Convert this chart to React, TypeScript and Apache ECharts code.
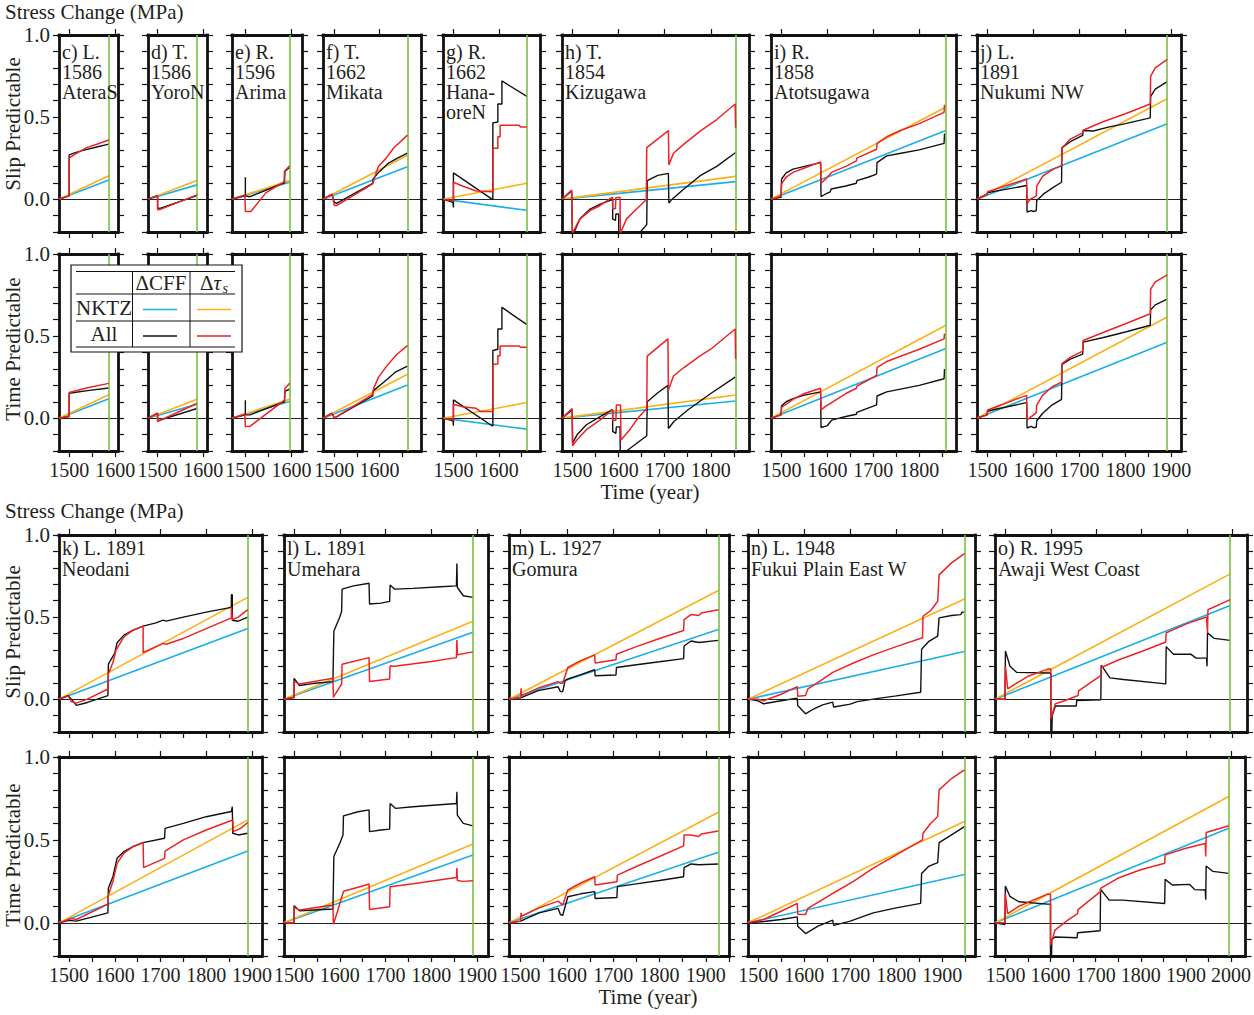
import React, { useEffect, useRef } from 'react';
import * as echarts from 'echarts';

type Pt = [number, number];

// ---------- panel metadata ----------
const panelTitles: string[][] = [
  ['c) L.', '1586', 'AteraS'],
  ['d) T.', '1586', 'YoroN'],
  ['e) R.', '1596', 'Arima'],
  ['f) T.', '1662', 'Mikata'],
  ['g) R.', '1662', 'Hana-', 'oreN'],
  ['h) T.', '1854', 'Kizugawa'],
  ['i) R.', '1858', 'Atotsugawa'],
  ['j) L.', '1891', 'Nukumi NW'],
  ['k) L. 1891', 'Neodani'],
  ['l) L. 1891', 'Umehara'],
  ['m) L. 1927', 'Gomura'],
  ['n) L. 1948', 'Fukui Plain East W'],
  ['o) R. 1995', 'Awaji West Coast'],
];
const eventYears = [1586, 1586, 1596, 1662, 1662, 1854, 1858, 1891, 1891, 1891, 1927, 1948, 1995];
const yearMin = [1478, 1479, 1471, 1475, 1477, 1477, 1477, 1477, 1478, 1478, 1475, 1478, 1477];
const yearMax = [1606, 1608, 1623, 1692, 1691, 1883, 1880, 1921, 1922, 1924, 1950, 1971, 2032];

// NKTZ-only linear loading (value reached at the event year)
const nktzSlipCff = [0.117, 0.087, 0.103, 0.197, -0.068, 0.107, 0.418, 0.459, 0.431, 0.408, 0.425, 0.29, 0.57];
const nktzSlipTau = [0.143, 0.113, 0.113, 0.268, 0.097, 0.139, 0.561, 0.612, 0.62, 0.475, 0.662, 0.61, 0.763];
const nktzTimeCff = [0.119, 0.085, 0.101, 0.202, -0.067, 0.105, 0.424, 0.463, 0.433, 0.409, 0.425, 0.292, 0.571];
const nktzTimeTau = [0.143, 0.115, 0.115, 0.267, 0.095, 0.141, 0.566, 0.616, 0.621, 0.476, 0.667, 0.611, 0.762];

// ---------- All-sources series ----------
const cSlipCff: Pt[] = [[1478, 0], [1500, 0.02], [1500, 0.27], [1510, 0.28], [1530, 0.297], [1560, 0.318], [1586, 0.335]];
const cSlipTau: Pt[] = [[1478, 0], [1500, 0.02], [1500, 0.25], [1510, 0.27], [1538, 0.314], [1560, 0.335], [1586, 0.36]];
const cTimeCff: Pt[] = [[1478, 0], [1500, 0.01], [1500, 0.152], [1540, 0.168], [1586, 0.184]];
const cTimeTau: Pt[] = [[1478, 0], [1500, 0.01], [1500, 0.156], [1540, 0.185], [1586, 0.212]];

const dSlipCff: Pt[] = [[1479, 0], [1498, 0.02], [1500, 0.02], [1500, -0.054], [1505, -0.056], [1586, 0.022]];
const dSlipTau: Pt[] = [[1479, 0], [1498, 0.02], [1500, 0.02], [1500, -0.064], [1506, -0.062], [1586, 0.026]];
const dTimeCff: Pt[] = [[1479, 0], [1500, 0.03], [1500, -0.016], [1586, 0.059]];
const dTimeTau: Pt[] = [[1479, 0], [1500, 0.03], [1500, -0.02], [1586, 0.089]];

const eSlipCff: Pt[] = [[1471, 0], [1500, 0.02], [1500, 0.133], [1500, 0.02], [1510, 0.015], [1585, 0.1], [1586, 0.17], [1596, 0.193]];
const eSlipTau: Pt[] = [[1471, 0], [1499, 0.025], [1500, -0.075], [1512, -0.075], [1545, 0.04], [1584, 0.105], [1585, 0.17], [1590, 0.185], [1596, 0.203]];
const eTimeCff: Pt[] = [[1471, 0], [1500, 0.02], [1500, 0.109], [1500, 0.02], [1510, 0.02], [1585, 0.1], [1586, 0.165], [1596, 0.176]];
const eTimeTau: Pt[] = [[1471, 0], [1499, 0.025], [1500, -0.05], [1510, -0.05], [1585, 0.11], [1586, 0.18], [1596, 0.212]];

const fSlipCff: Pt[] = [[1475, 0], [1495, 0.03], [1500, -0.02], [1505, -0.025], [1585, 0.097], [1586, 0.123], [1598, 0.163], [1620, 0.22], [1640, 0.25], [1662, 0.28]];
const fSlipTau: Pt[] = [[1475, 0], [1495, 0.03], [1500, -0.038], [1506, -0.038], [1585, 0.093], [1590, 0.14], [1598, 0.2], [1615, 0.25], [1631, 0.31], [1662, 0.39]];
const fTimeCff: Pt[] = [[1475, 0], [1495, 0.03], [1500, 0], [1585, 0.135], [1586, 0.166], [1610, 0.22], [1635, 0.28], [1662, 0.317]];
const fTimeTau: Pt[] = [[1475, 0], [1495, 0.03], [1500, 0], [1585, 0.145], [1587, 0.18], [1598, 0.25], [1616, 0.317], [1638, 0.388], [1662, 0.442]];

const gSlipCff: Pt[] = [[1477, 0], [1499, -0.02], [1500, -0.05], [1500, 0.16], [1585, 0], [1587, 0], [1587, 0.465], [1598, 0.47], [1598, 0.58], [1607, 0.58], [1607, 0.72], [1662, 0.626]];
const gSlipTau: Pt[] = [[1477, 0], [1500, -0.01], [1500, 0.103], [1520, 0.08], [1550, 0.05], [1585, 0.045], [1587, 0.045], [1587, 0.31], [1598, 0.31], [1598, 0.38], [1603, 0.38], [1603, 0.45], [1645, 0.45], [1648, 0.44], [1662, 0.44]];
const gTimeCff: Pt[] = [[1477, 0], [1499, -0.016], [1500, -0.046], [1500, 0.111], [1585, -0.046], [1587, -0.046], [1587, 0.412], [1598, 0.42], [1598, 0.543], [1607, 0.543], [1607, 0.675], [1662, 0.57]];
const gTimeTau: Pt[] = [[1477, 0], [1500, -0.01], [1500, 0.085], [1520, 0.07], [1550, 0.06], [1560, 0.04], [1587, 0.04], [1587, 0.327], [1598, 0.33], [1598, 0.38], [1603, 0.38], [1603, 0.44], [1645, 0.44], [1648, 0.432], [1662, 0.432]];

const hSlipCff: Pt[] = [[1477, 0], [1498, 0.05], [1500, -0.3], [1505, -0.19], [1516, -0.12], [1538, -0.06], [1560, -0.03], [1585, -0.004], [1587, -0.004], [1587, -0.12], [1593, -0.13], [1594, -0.09], [1600, -0.09], [1601, -0.45], [1647, -0.2], [1661, -0.155], [1662, 0.113], [1685, 0.145], [1708, 0.157], [1709, -0.024], [1716, 0.0], [1741, 0.06], [1777, 0.143], [1813, 0.2], [1854, 0.284]];
const hSlipTau: Pt[] = [[1477, 0], [1498, 0.056], [1500, -0.3], [1501, -0.2], [1516, -0.12], [1538, -0.07], [1559, -0.04], [1585, 0.01], [1587, 0.01], [1587, -0.058], [1593, -0.058], [1594, 0.01], [1603, 0.01], [1604, -0.3], [1605, -0.2], [1617, -0.12], [1639, -0.06], [1660, -0.004], [1661, 0.314], [1708, 0.418], [1709, 0.209], [1719, 0.28], [1741, 0.334], [1777, 0.414], [1813, 0.485], [1853, 0.58], [1854, 0.435]];
const hTimeCff: Pt[] = [[1477, 0], [1499, 0.05], [1500, -0.15], [1510, -0.1], [1530, -0.04], [1560, 0.01], [1585, 0.05], [1587, 0.05], [1587, -0.08], [1594, -0.093], [1595, -0.053], [1603, -0.053], [1604, -0.35], [1617, -0.2], [1661, -0.107], [1662, 0.1], [1685, 0.155], [1707, 0.2], [1708, -0.063], [1720, -0.02], [1750, 0.05], [1800, 0.15], [1853, 0.25]];
const hTimeTau: Pt[] = [[1477, 0], [1499, 0.059], [1500, -0.168], [1510, -0.13], [1530, -0.07], [1560, -0.01], [1585, 0.048], [1587, 0.048], [1587, -0.012], [1594, -0.012], [1595, 0.08], [1604, 0.08], [1605, -0.133], [1625, -0.067], [1643, 0.004], [1661, 0.059], [1662, 0.378], [1707, 0.483], [1708, 0.172], [1719, 0.257], [1741, 0.307], [1777, 0.38], [1800, 0.42], [1853, 0.543], [1854, 0.36]];

const iSlipCff: Pt[] = [[1477, 0], [1499, 0.012], [1500, 0.123], [1510, 0.16], [1525, 0.183], [1550, 0.2], [1585, 0.223], [1586, 0.016], [1595, 0.03], [1606, 0.045], [1608, 0.062], [1640, 0.08], [1663, 0.097], [1664, 0.113], [1690, 0.135], [1707, 0.153], [1708, 0.223], [1729, 0.264], [1760, 0.28], [1800, 0.3], [1854, 0.34], [1855, 0.4]];
const iSlipTau: Pt[] = [[1477, 0], [1499, 0.018], [1500, 0.093], [1510, 0.135], [1525, 0.163], [1550, 0.19], [1585, 0.227], [1586, 0.097], [1595, 0.12], [1609, 0.163], [1640, 0.2], [1663, 0.233], [1664, 0.25], [1707, 0.304], [1708, 0.34], [1729, 0.38], [1760, 0.42], [1800, 0.46], [1854, 0.529], [1855, 0.575]];
const iTimeCff: Pt[] = [[1477, 0], [1499, 0.02], [1500, 0.075], [1510, 0.1], [1525, 0.119], [1550, 0.14], [1585, 0.16], [1586, -0.057], [1600, -0.045], [1607, -0.02], [1609, -0.012], [1640, 0.01], [1663, 0.024], [1664, 0.035], [1707, 0.081], [1708, 0.135], [1729, 0.16], [1800, 0.2], [1854, 0.24], [1855, 0.3]];
const iTimeTau: Pt[] = [[1477, 0], [1499, 0.02], [1500, 0.065], [1525, 0.115], [1550, 0.15], [1585, 0.182], [1586, 0.05], [1595, 0.07], [1609, 0.095], [1640, 0.15], [1663, 0.182], [1664, 0.195], [1707, 0.26], [1708, 0.31], [1729, 0.345], [1800, 0.42], [1854, 0.483], [1855, 0.515]];

const jSlipCff: Pt[] = [[1477, 0], [1499, 0.03], [1500, 0.04], [1585, 0.083], [1586, -0.078], [1595, -0.07], [1600, -0.075], [1606, -0.07], [1607, -0.008], [1622, 0.032], [1643, 0.072], [1661, 0.103], [1662, 0.314], [1680, 0.35], [1707, 0.388], [1708, 0.418], [1730, 0.415], [1765, 0.44], [1800, 0.46], [1854, 0.495], [1855, 0.626], [1865, 0.67], [1891, 0.716]];
const jSlipTau: Pt[] = [[1477, 0], [1499, 0.03], [1500, 0.045], [1585, 0.123], [1586, -0.028], [1593, 0], [1600, 0.01], [1606, 0.02], [1607, 0.08], [1620, 0.14], [1643, 0.183], [1661, 0.203], [1662, 0.31], [1680, 0.366], [1707, 0.404], [1708, 0.42], [1750, 0.47], [1800, 0.52], [1854, 0.58], [1855, 0.75], [1865, 0.8], [1891, 0.851]];
const jTimeCff: Pt[] = [[1477, 0], [1499, 0.02], [1500, 0.044], [1585, 0.095], [1586, -0.06], [1595, -0.05], [1600, -0.058], [1606, -0.055], [1607, -0.016], [1620, 0.03], [1640, 0.08], [1661, 0.115], [1662, 0.327], [1680, 0.36], [1707, 0.39], [1708, 0.463], [1750, 0.49], [1800, 0.525], [1854, 0.566], [1855, 0.66], [1865, 0.69], [1891, 0.725]];
const jTimeTau: Pt[] = [[1477, 0], [1499, 0.02], [1500, 0.05], [1585, 0.139], [1586, -0.01], [1600, 0.02], [1606, 0.034], [1607, 0.08], [1620, 0.14], [1640, 0.19], [1661, 0.22], [1662, 0.333], [1680, 0.37], [1707, 0.408], [1708, 0.473], [1750, 0.52], [1800, 0.575], [1854, 0.636], [1855, 0.786], [1865, 0.83], [1891, 0.873]];

const kSlipCff: Pt[] = [[1478, 0], [1498, 0.022], [1505, 0], [1516, -0.038], [1540, -0.02], [1585, 0.022], [1586, 0.213], [1592, 0.243], [1600, 0.28], [1605, 0.344], [1620, 0.39], [1640, 0.42], [1662, 0.445], [1690, 0.465], [1706, 0.481], [1712, 0.475], [1750, 0.5], [1800, 0.53], [1855, 0.559], [1855, 0.636], [1857, 0.636], [1857, 0.481], [1870, 0.475], [1891, 0.5]];
const kSlipTau: Pt[] = [[1478, 0], [1498, 0.02], [1505, -0.015], [1516, -0.024], [1540, 0.0], [1585, 0.062], [1586, 0.153], [1596, 0.223], [1603, 0.3], [1620, 0.38], [1640, 0.42], [1662, 0.445], [1662, 0.284], [1706, 0.34], [1712, 0.335], [1750, 0.37], [1800, 0.43], [1855, 0.495], [1855, 0.56], [1857, 0.485], [1870, 0.5], [1891, 0.545]];
const kTimeCff: Pt[] = [[1478, 0], [1500, 0.015], [1516, 0.01], [1585, 0.06], [1586, 0.208], [1596, 0.28], [1605, 0.389], [1620, 0.43], [1640, 0.46], [1662, 0.484], [1709, 0.51], [1710, 0.57], [1750, 0.6], [1800, 0.64], [1855, 0.671], [1857, 0.7], [1858, 0.54], [1870, 0.53], [1891, 0.54]];
const kTimeTau: Pt[] = [[1478, 0], [1505, 0.026], [1516, 0.02], [1585, 0.113], [1586, 0.167], [1596, 0.25], [1605, 0.359], [1620, 0.42], [1640, 0.46], [1662, 0.484], [1663, 0.333], [1709, 0.389], [1710, 0.433], [1750, 0.5], [1800, 0.56], [1858, 0.62], [1859, 0.55], [1875, 0.57], [1891, 0.605]];

const lSlipCff: Pt[] = [[1478, 0], [1500, 0.01], [1500, 0.127], [1512, 0.083], [1540, 0.095], [1585, 0.107], [1587, 0.414], [1600, 0.5], [1604, 0.535], [1605, 0.67], [1630, 0.69], [1664, 0.706], [1665, 0.58], [1690, 0.585], [1709, 0.596], [1710, 0.696], [1720, 0.67], [1760, 0.675], [1820, 0.685], [1855, 0.69], [1856, 0.827], [1857, 0.68], [1870, 0.63], [1891, 0.62]];
const lSlipTau: Pt[] = [[1478, 0], [1500, 0.01], [1500, 0.107], [1512, 0.093], [1550, 0.11], [1585, 0.127], [1586, 0.012], [1604, 0.093], [1605, 0.213], [1664, 0.253], [1665, 0.107], [1709, 0.123], [1710, 0.203], [1720, 0.2], [1800, 0.23], [1855, 0.253], [1856, 0.36], [1857, 0.27], [1891, 0.288]];
const lTimeCff: Pt[] = [[1478, 0], [1500, 0.0], [1500, 0.103], [1512, 0.073], [1585, 0.083], [1587, 0.4], [1600, 0.48], [1607, 0.53], [1608, 0.645], [1640, 0.67], [1664, 0.681], [1665, 0.55], [1690, 0.56], [1709, 0.565], [1710, 0.72], [1722, 0.69], [1760, 0.7], [1855, 0.72], [1856, 0.79], [1857, 0.65], [1870, 0.6], [1891, 0.585]];
const lTimeTau: Pt[] = [[1478, 0], [1500, 0.0], [1500, 0.093], [1512, 0.077], [1585, 0.107], [1586, -0.008], [1595, 0.07], [1607, 0.18], [1608, 0.19], [1640, 0.215], [1664, 0.234], [1665, 0.081], [1709, 0.097], [1710, 0.218], [1760, 0.235], [1855, 0.274], [1856, 0.33], [1857, 0.255], [1870, 0.25], [1891, 0.254]];

const mSlipCff: Pt[] = [[1475, 0], [1500, 0.008], [1538, 0.052], [1581, 0.076], [1586, 0.046], [1591, 0.046], [1596, 0.113], [1602, 0.123], [1630, 0.15], [1660, 0.179], [1661, 0.143], [1706, 0.147], [1707, 0.193], [1750, 0.21], [1800, 0.228], [1852, 0.247], [1853, 0.324], [1868, 0.354], [1885, 0.345], [1927, 0.358]];
const mSlipTau: Pt[] = [[1475, 0], [1500, 0.01], [1501, 0.066], [1502, 0.02], [1540, 0.07], [1581, 0.107], [1586, 0.097], [1591, 0.097], [1602, 0.193], [1630, 0.235], [1660, 0.27], [1661, 0.22], [1706, 0.24], [1707, 0.274], [1750, 0.32], [1800, 0.37], [1852, 0.418], [1853, 0.485], [1868, 0.515], [1885, 0.51], [1890, 0.525], [1927, 0.545]];
const mTimeCff: Pt[] = [[1475, 0], [1500, 0.01], [1540, 0.06], [1581, 0.087], [1586, 0.05], [1591, 0.046], [1602, 0.157], [1630, 0.175], [1660, 0.188], [1661, 0.147], [1708, 0.153], [1709, 0.218], [1750, 0.235], [1800, 0.255], [1852, 0.278], [1853, 0.333], [1868, 0.355], [1885, 0.35], [1927, 0.355]];
const mTimeTau: Pt[] = [[1475, 0], [1500, 0.01], [1501, 0.06], [1502, 0.04], [1540, 0.09], [1581, 0.131], [1591, 0.107], [1602, 0.198], [1630, 0.24], [1660, 0.278], [1661, 0.228], [1708, 0.248], [1709, 0.288], [1750, 0.34], [1800, 0.4], [1852, 0.464], [1853, 0.53], [1868, 0.53], [1885, 0.52], [1890, 0.535], [1927, 0.554]];

const nSlipCff: Pt[] = [[1478, 0], [1500, -0.01], [1512, -0.028], [1550, -0.01], [1585, 0.006], [1586, -0.038], [1603, -0.089], [1620, -0.06], [1640, -0.035], [1662, -0.018], [1664, -0.048], [1700, -0.03], [1715, -0.015], [1750, 0.0], [1800, 0.02], [1853, 0.042], [1855, 0.304], [1870, 0.35], [1890, 0.384], [1893, 0.495], [1920, 0.51], [1940, 0.515], [1943, 0.53], [1948, 0.53]];
const nSlipTau: Pt[] = [[1478, 0], [1500, 0.0], [1512, -0.01], [1550, 0.03], [1585, 0.076], [1586, 0.018], [1603, 0.022], [1608, 0.062], [1640, 0.12], [1662, 0.163], [1707, 0.22], [1750, 0.27], [1800, 0.32], [1857, 0.374], [1858, 0.505], [1875, 0.54], [1890, 0.596], [1893, 0.757], [1920, 0.83], [1948, 0.887]];
const nTimeCff: Pt[] = [[1478, 0], [1512, 0.008], [1550, 0.02], [1585, 0.036], [1586, -0.02], [1603, -0.065], [1630, -0.02], [1662, 0.016], [1664, -0.015], [1700, 0.01], [1750, 0.06], [1800, 0.09], [1853, 0.117], [1855, 0.298], [1870, 0.34], [1890, 0.363], [1893, 0.484], [1920, 0.53], [1948, 0.58]];
const nTimeTau: Pt[] = [[1478, 0], [1512, 0.02], [1550, 0.07], [1585, 0.117], [1586, 0.052], [1603, 0.05], [1608, 0.087], [1640, 0.14], [1662, 0.177], [1707, 0.25], [1750, 0.33], [1800, 0.41], [1857, 0.5], [1858, 0.54], [1875, 0.6], [1890, 0.641], [1893, 0.802], [1920, 0.87], [1948, 0.923]];

const oSlipCff: Pt[] = [[1477, 0], [1499, 0.0], [1500, 0.294], [1510, 0.2], [1525, 0.163], [1593, 0.159], [1600, 0.159], [1600, -0.5], [1603, -0.1], [1610, -0.042], [1656, -0.042], [1657, -0.008], [1710, -0.004], [1711, 0.207], [1730, 0.13], [1760, 0.12], [1853, 0.093], [1854, 0.32], [1870, 0.274], [1908, 0.274], [1920, 0.25], [1943, 0.25], [1944, 0.2], [1945, 0.404], [1960, 0.37], [1995, 0.358]];
const oSlipTau: Pt[] = [[1477, 0], [1499, 0.0], [1500, 0.2], [1505, 0.062], [1520, 0.09], [1550, 0.14], [1593, 0.183], [1600, 0.183], [1600, -0.119], [1610, -0.028], [1630, -0.01], [1660, 0.022], [1661, 0.05], [1710, 0.143], [1711, 0.193], [1750, 0.24], [1800, 0.29], [1853, 0.348], [1854, 0.404], [1900, 0.46], [1943, 0.5], [1945, 0.404], [1946, 0.545], [1995, 0.606]];
const oTimeCff: Pt[] = [[1477, 0], [1499, -0.01], [1500, 0.222], [1510, 0.16], [1530, 0.127], [1593, 0.113], [1600, 0.113], [1600, -0.5], [1603, -0.1], [1610, -0.085], [1659, -0.09], [1660, -0.06], [1710, -0.048], [1711, 0.202], [1730, 0.137], [1760, 0.137], [1853, 0.117], [1854, 0.262], [1870, 0.228], [1908, 0.232], [1920, 0.2], [1943, 0.198], [1944, 0.14], [1945, 0.343], [1960, 0.31], [1995, 0.298]];
const oTimeTau: Pt[] = [[1477, 0], [1499, 0.0], [1500, 0.177], [1505, 0.056], [1530, 0.1], [1593, 0.173], [1600, 0.173], [1600, -0.135], [1610, -0.044], [1640, 0.02], [1660, 0.056], [1661, 0.08], [1710, 0.187], [1711, 0.208], [1750, 0.27], [1800, 0.32], [1853, 0.359], [1854, 0.41], [1900, 0.45], [1943, 0.478], [1944, 0.4], [1945, 0.545], [1995, 0.585]];

const allSlipCff = [cSlipCff, dSlipCff, eSlipCff, fSlipCff, gSlipCff, hSlipCff, iSlipCff, jSlipCff, kSlipCff, lSlipCff, mSlipCff, nSlipCff, oSlipCff];
const allSlipTau = [cSlipTau, dSlipTau, eSlipTau, fSlipTau, gSlipTau, hSlipTau, iSlipTau, jSlipTau, kSlipTau, lSlipTau, mSlipTau, nSlipTau, oSlipTau];
const allTimeCff = [cTimeCff, dTimeCff, eTimeCff, fTimeCff, gTimeCff, hTimeCff, iTimeCff, jTimeCff, kTimeCff, lTimeCff, mTimeCff, nTimeCff, oTimeCff];
const allTimeTau = [cTimeTau, dTimeTau, eTimeTau, fTimeTau, gTimeTau, hTimeTau, iTimeTau, jTimeTau, kTimeTau, lTimeTau, mTimeTau, nTimeTau, oTimeTau];

const yTickValues = [-0.2, -0.1, 0, 0.1, 0.2, 0.3, 0.4, 0.5, 0.6, 0.7, 0.8, 0.9, 1.0];
const yLabelValues = [0, 0.5, 1.0];

// ---------- layout (pixels) ----------
const panelLeft = [59, 148, 232, 323, 443, 562, 771, 977, 59, 284, 509, 748, 995];
const panelRight = [118, 207, 302, 421, 540, 749, 956, 1181, 262, 488, 729, 975, 1247];
const rowTop = [[35, 254], [535, 757]];
const rowHeight = [[197, 197], [197, 199]];

const FONT = '"Liberation Serif", "Times New Roman", serif';
const INK = '#231f20';
const C_BLUE = '#1aafe6';
const C_ORANGE = '#fbb016';
const C_BLACK = '#111111';
const C_RED = '#ee2225';
const C_GREEN = '#78c043';

function multiplesIn(step: number, lo: number, hi: number): number[] {
  const out: number[] = [];
  for (let v = Math.ceil(lo / step) * step; v <= hi; v += step) out.push(v);
  return out;
}

function buildOption() {
  const grid: any[] = [];
  const xAxis: any[] = [];
  const yAxis: any[] = [];
  const series: any[] = [];
  const graphic: any[] = [];
  const frame = { show: true, onZero: false, lineStyle: { color: '#111', width: 2.8, cap: 'square' } };
  const tickStyle = { color: '#111', width: 1.2 };

  panelTitles.forEach((title, p) => {
    const sec = p < 8 ? 0 : 1;
    const firstInSection = p === 0 || p === 8;
    [0, 1].forEach((row) => {
      const gi = grid.length;
      const top = rowTop[sec][row];
      const height = rowHeight[sec][row];
      const left = panelLeft[p];
      const width = panelRight[p] - panelLeft[p];
      grid.push({ left, top, width, height, containLabel: false });
      const min = yearMin[p];
      const max = yearMax[p];
      xAxis.push({
        type: 'value', gridIndex: gi, min, max, position: 'bottom',
        axisLine: frame,
        axisTick: { show: true, inside: false, length: 6, customValues: multiplesIn(50, min, max), lineStyle: tickStyle },
        axisLabel: { show: row === 1, customValues: multiplesIn(100, min, max), fontFamily: FONT, fontSize: 20, color: INK, margin: 9, formatter: (v: number) => String(v) },
        splitLine: { show: false },
      });
      xAxis.push({
        type: 'value', gridIndex: gi, min, max, position: 'top',
        axisLine: frame,
        axisTick: { show: true, inside: false, length: 6, customValues: multiplesIn(100, min, max), lineStyle: tickStyle },
        axisLabel: { show: false },
        splitLine: { show: false },
      });
      yAxis.push({
        type: 'value', gridIndex: gi, min: -0.2, max: 1.0, position: 'left',
        axisLine: frame,
        axisTick: { show: true, inside: false, length: 6, customValues: yTickValues, lineStyle: tickStyle },
        axisLabel: { show: firstInSection, customValues: yLabelValues, fontFamily: FONT, fontSize: 21, color: INK, margin: 9, formatter: (v: number) => v.toFixed(1) },
        splitLine: { show: false },
      });
      yAxis.push({
        type: 'value', gridIndex: gi, min: -0.2, max: 1.0, position: 'right',
        axisLine: frame,
        axisTick: { show: true, inside: false, length: 6, customValues: yTickValues, lineStyle: tickStyle },
        axisLabel: { show: false },
        splitLine: { show: false },
      });
      const xi = gi * 2;
      const yi = gi * 2;
      const ev = eventYears[p];
      const nkCff = row === 0 ? nktzSlipCff[p] : nktzTimeCff[p];
      const nkTau = row === 0 ? nktzSlipTau[p] : nktzTimeTau[p];
      const allCff = row === 0 ? allSlipCff[p] : allTimeCff[p];
      const allTau = row === 0 ? allSlipTau[p] : allTimeTau[p];
      const base = { type: 'line', xAxisIndex: xi, yAxisIndex: yi, showSymbol: false, symbol: 'none', clip: true, silent: true, animation: false };
      series.push({
        ...base, name: 'NKTZ ΔCFF', data: [[min, 0], [ev, nkCff]],
        lineStyle: { color: C_BLUE, width: 1.6 }, z: 2,
        markLine: {
          silent: true, symbol: ['none', 'none'], label: { show: false }, animation: false,
          data: [
            { yAxis: 0, lineStyle: { color: '#222', width: 1, type: 'solid' } },
            { xAxis: ev, lineStyle: { color: C_GREEN, width: 1.6, type: 'solid' } },
          ],
        },
      });
      series.push({ ...base, name: 'NKTZ Δτs', data: [[min, 0], [ev, nkTau]], lineStyle: { color: C_ORANGE, width: 1.6 }, z: 3 });
      series.push({ ...base, name: 'All ΔCFF', data: allCff, lineStyle: { color: C_BLACK, width: 1.4 }, z: 4 });
      series.push({ ...base, name: 'All Δτs', data: allTau, lineStyle: { color: C_RED, width: 1.5 }, z: 5 });
    });

    // panel title (one multi-line text per panel)
    const t0 = rowTop[sec][0];
    const lh = sec === 0 ? 20 : 21;
    const firstCenter = sec === 0 ? 17 : 12.5;
    graphic.push({
      type: 'text', x: panelLeft[p] + 3, y: t0 + firstCenter - lh / 2, z: 50,
      style: { text: title.join('\n'), fontFamily: FONT, fontSize: 20, lineHeight: lh, fill: INK, align: 'left', verticalAlign: 'top' },
    });
  });

  // section labels
  const txt = (text: string, x: number, y: number, align: string, rot = 0) => ({
    type: 'text', x, y, z: 50, rotation: rot,
    style: { text, fontFamily: FONT, fontSize: 21, fill: INK, align, verticalAlign: 'middle' },
  });
  graphic.push(txt('Stress Change (MPa)', 5, 12, 'left'));
  graphic.push(txt('Stress Change (MPa)', 5, 511, 'left'));
  graphic.push(txt('Slip Predictable', 13, 124, 'center', Math.PI / 2));
  graphic.push(txt('Time Predictable', 13, 349, 'center', Math.PI / 2));
  graphic.push(txt('Slip Predictable', 13, 632, 'center', Math.PI / 2));
  graphic.push(txt('Time Predictable', 13, 855, 'center', Math.PI / 2));
  graphic.push(txt('Time (year)', 650, 492, 'center'));
  graphic.push(txt('Time (year)', 648, 997, 'center'));

  // legend table (drawn above the panels)
  const LZ = 200;
  graphic.push({ type: 'rect', z: LZ, shape: { x: 71, y: 265, width: 171, height: 87 }, style: { fill: '#ffffff', stroke: '#111', lineWidth: 1.2 } });
  [271.5, 294, 321, 347].forEach((y) => graphic.push({ type: 'line', z: LZ + 1, shape: { x1: 76, y1: y, x2: 235, y2: y }, style: { stroke: '#111', lineWidth: 1 } }));
  [132.5, 190].forEach((x) => graphic.push({ type: 'line', z: LZ + 1, shape: { x1: x, y1: 271.5, x2: x, y2: 347 }, style: { stroke: '#111', lineWidth: 1 } }));
  const ls = (x1: number, y: number, color: string) => ({ type: 'line', z: LZ + 1, shape: { x1, y1: y, x2: x1 + 34, y2: y }, style: { stroke: color, lineWidth: 1.5 } });
  graphic.push(ls(143, 309.5, C_BLUE), ls(197, 309.5, C_ORANGE), ls(143, 336, C_BLACK), ls(197, 336, C_RED));
  const lt = (text: string, x: number, y: number, align: string, size = 21, italic = false) => ({
    type: 'text', x, y, z: LZ + 2,
    style: { text, fontFamily: FONT, fontSize: size, fontStyle: italic ? 'italic' : 'normal', fill: INK, align, verticalAlign: 'middle' },
  });
  graphic.push(lt('ΔCFF', 161, 283, 'center'));
  graphic.push(lt('Δ', 200, 283, 'left'));
  graphic.push(lt('τ', 213.5, 283, 'left', 21, true));
  graphic.push(lt('s', 222.5, 288, 'left', 14, true));
  graphic.push(lt('NKTZ', 104, 308, 'center'));
  graphic.push(lt('All', 104, 334, 'center'));

  return {
    animation: false,
    backgroundColor: '#ffffff',
    grid, xAxis, yAxis, series, graphic,
  };
}

export default function App() {
  const ref = useRef<HTMLDivElement>(null);
  useEffect(() => {
    if (!ref.current) return;
    const chart = echarts.init(ref.current, undefined, { renderer: 'svg' });
    chart.setOption(buildOption() as any);
    return () => chart.dispose();
  }, []);
  return <div ref={ref} style={{ position: 'absolute', left: 0, top: 0, width: 1254, height: 1015, background: '#fff' }} />;
}
